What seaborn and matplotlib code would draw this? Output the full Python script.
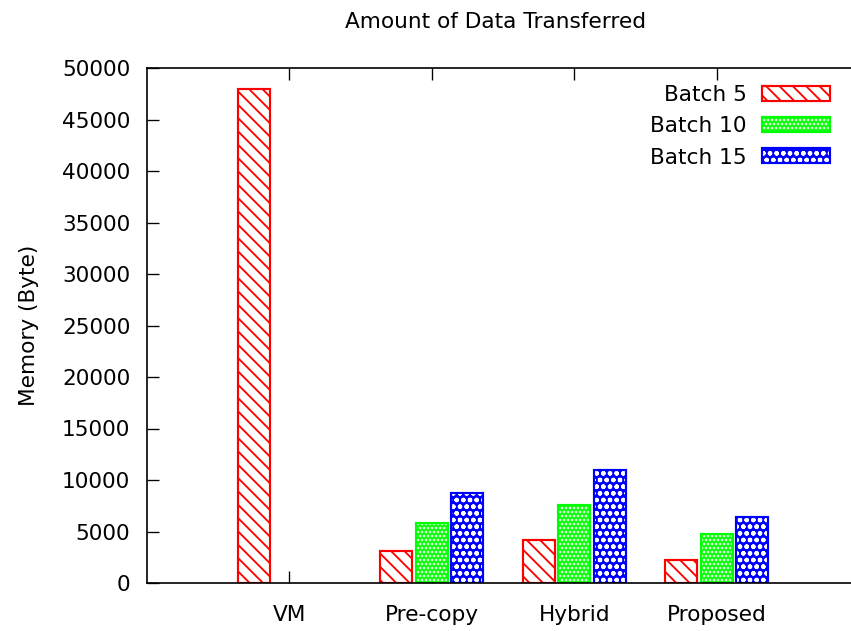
import numpy as np
import pandas as pd
import matplotlib
matplotlib.use("Agg")
import matplotlib.pyplot as plt
from matplotlib.patches import Patch
from matplotlib.legend_handler import HandlerTuple
import seaborn as sns

# Data: memory transferred (bytes) per method and batch size
methods = ["VM", "Pre-copy", "Hybrid", "Proposed"]
batch_labels = ["Batch 5", "Batch 10", "Batch 15"]
batch5 = [48000, 3100, 4200, 2200]
batch10 = [np.nan, 5800, 7550, 4800]
batch15 = [np.nan, 8750, 11000, 6400]
y_ticks = [0, 5000, 10000, 15000, 20000, 25000, 30000, 35000, 40000, 45000, 50000]

colors = ["#ff0000", "#00ff00", "#0000ff"]
hatches = ["\\\\\\", ".....", "ooo"]

df = pd.DataFrame({
    "method": methods * 3,
    "batch": [b for b in batch_labels for _ in methods],
    "value": batch5 + batch10 + batch15,
})

sns.set_theme(style="white")
plt.rcParams["font.family"] = ["DejaVu Sans"]
plt.rcParams["text.color"] = "black"
plt.rcParams["hatch.linewidth"] = 1.1

W, H, DPI = 851, 631, 120
fig = plt.figure(figsize=(W / DPI, H / DPI), dpi=DPI)
left, right, top, bottom = 147, 859, 68, 583
ax = fig.add_axes([left / W, 1 - bottom / H, (right - left) / W, (bottom - top) / H])

common = dict(data=df, x="method", y="value", hue="batch", order=methods,
              hue_order=batch_labels, palette=colors, width=0.75, gap=0.1,
              errorbar=None, legend=False, ax=ax)

# Hatched fill layer
sns.barplot(**common)
for i, cont in enumerate(ax.containers):
    for p in cont:
        if i == 0:
            p.set_facecolor("white")
            p.set_edgecolor(colors[0])
        else:
            p.set_facecolor(colors[i])
            p.set_edgecolor("white")
        p.set_hatch(hatches[i])
        p.set_linewidth(0)

# Outline layer
sns.barplot(**common, fill=False, linewidth=1.3)

ax.set_xlim(-1, 4)
ax.set_ylim(0, 50000)
ax.set_yticks(y_ticks)
ax.set_yticklabels([str(v) for v in y_ticks])
ax.set_xlabel("")
ax.set_ylabel("Memory (Byte)", fontsize=13, labelpad=14, color="black")

for s in ax.spines.values():
    s.set_color("black")
    s.set_linewidth(1.0)
    s.set_visible(True)

ax.tick_params(axis="both", which="both", direction="in", length=7, width=0.8,
               color="black", labelsize=13, labelcolor="black",
               top=True, right=False, left=True, bottom=True)
ax.tick_params(axis="y", pad=10)
ax.tick_params(axis="x", pad=13)

fig.text(496 / W, 1 - 22 / H, "Amount of Data Transferred", ha="center",
         va="center", fontsize=13, color="black")

# Legend: text first, hatched sample box on the right
handles = []
for i in range(3):
    if i == 0:
        fillp = Patch(facecolor="white", edgecolor=colors[0], hatch=hatches[0], linewidth=0)
    else:
        fillp = Patch(facecolor=colors[i], edgecolor="white", hatch=hatches[i], linewidth=0)
    outline = Patch(facecolor="none", edgecolor=colors[i], linewidth=1.3)
    handles.append((fillp, outline))

fs_px = 13 * DPI / 72
leg = ax.legend(handles, batch_labels, handler_map={tuple: HandlerTuple(ndivide=1, pad=0)},
                loc="upper right", bbox_to_anchor=(830 / W, 1 - 85 / H),
                bbox_transform=fig.transFigure, frameon=False, markerfirst=False,
                fontsize=13, handlelength=68 / fs_px, handleheight=15 / fs_px,
                handletextpad=15 / fs_px, labelspacing=0.52, borderpad=0,
                borderaxespad=0)
for t in leg.get_texts():
    t.set_color("black")

fig.savefig("out.png", dpi=DPI)
